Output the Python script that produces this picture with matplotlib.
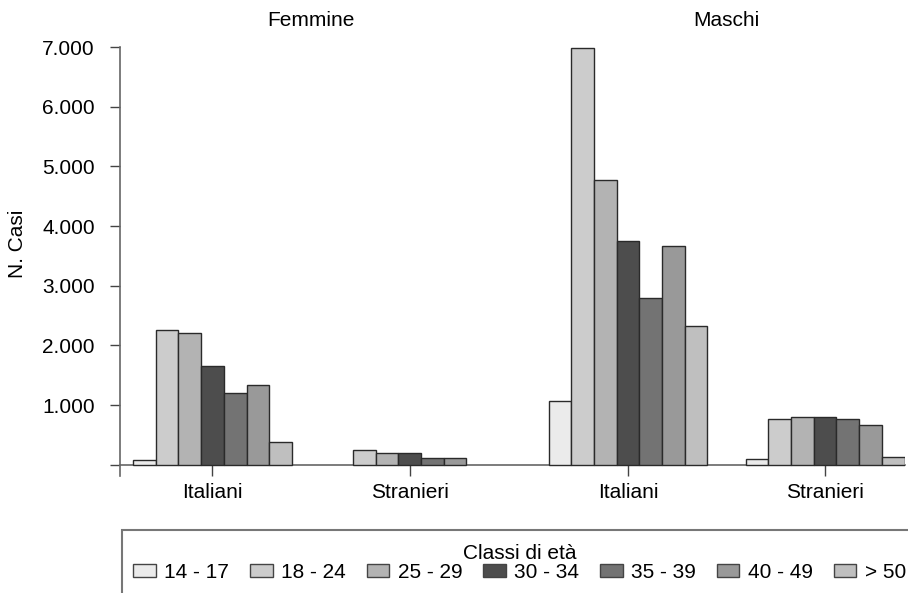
import matplotlib
matplotlib.use('Agg')
import matplotlib.pyplot as plt
from matplotlib.patches import Rectangle, Patch
import matplotlib.transforms as mtransforms

plt.rcParams['font.family'] = ['Liberation Sans', 'DejaVu Sans']

# ---- data ----
age_classes = ['14 - 17', '18 - 24', '25 - 29', '30 - 34', '35 - 39', '40 - 49', '> 50']
sexes = ['Femmine', 'Maschi']
origins = ['Italiani', 'Stranieri']
femmine_italiani = [80, 2250, 2210, 1650, 1205, 1330, 380]
femmine_stranieri = [0, 240, 200, 200, 120, 120, 0]
maschi_italiani = [1060, 6990, 4765, 3745, 2800, 3665, 2330]
maschi_stranieri = [90, 770, 805, 795, 760, 660, 125]
yticks = [0, 1000, 2000, 3000, 4000, 5000, 6000, 7000]
ytick_labels = ['', '1.000', '2.000', '3.000', '4.000', '5.000', '6.000', '7.000']

colors = ['#ebebeb', '#cccccc', '#b3b3b3', '#4d4d4d', '#737373', '#999999', '#bfbfbf']

values = {('Femmine', 'Italiani'): femmine_italiani,
          ('Femmine', 'Stranieri'): femmine_stranieri,
          ('Maschi', 'Italiani'): maschi_italiani,
          ('Maschi', 'Stranieri'): maschi_stranieri}

# ---- layout ----
W, H = 908, 593
fig = plt.figure(figsize=(W / 100, H / 100), dpi=100)
ax = fig.add_axes([120 / W, 1 - 476 / H, 785 / W, (476 - 47) / H])

sex_offsets = [0.0, 18.3]
origin_offsets = [0.0, 8.68]
n = len(age_classes)

tick_pos, tick_lab = [], []
for si, sex in enumerate(sexes):
    for oi, org in enumerate(origins):
        center = sex_offsets[si] + origin_offsets[oi]
        xs = [center + (i - (n - 1) / 2) for i in range(n)]
        vals = values[(sex, org)]
        ax.bar(xs, vals, width=1.0, color=colors,
               edgecolor='#2a2a2a',
               linewidth=[1.0 if v > 0 else 0.0 for v in vals], zorder=3)
        tick_pos.append(center)
        tick_lab.append(org)

ax.set_xlim(-4.073, 30.5)
px_per_1000 = (464.7 - 47) / 7
ax.set_ylim(-(476 - 464.7) / px_per_1000 * 1000, 7000)

for s in ['top', 'right']:
    ax.spines[s].set_visible(False)
ax.spines['bottom'].set_position(('data', 0))
for s in ['left', 'bottom']:
    ax.spines[s].set_color('#666666')
    ax.spines[s].set_linewidth(1.2)

ax.set_yticks(yticks)
ax.set_yticklabels(ytick_labels)
ax.set_xticks(tick_pos)
ax.set_xticklabels(tick_lab)
ax.tick_params(axis='y', length=7.2, width=1.0, color='#444444', pad=11, labelsize=15)
ax.tick_params(axis='x', length=8, width=1.0, color='#444444', pad=5, labelsize=15)

# panel titles
trans = mtransforms.blended_transform_factory(ax.transData, fig.transFigure)
for si, sex in enumerate(sexes):
    cx = sex_offsets[si] + sum(origin_offsets) / 2
    ax.text(cx, 1 - 20 / H, sex, transform=trans, ha='center', va='center',
            fontsize=15, clip_on=False)

fig.text(17.5 / W, 1 - 244 / H, 'N. Casi', rotation=90, ha='center', va='center',
         fontsize=15)

# legend
handles = [Patch(facecolor=c, edgecolor='#444444', linewidth=1.0) for c in colors]
fig.legend(handles, age_classes, ncol=n, title='Classi di età', loc='center',
           bbox_to_anchor=(519.5 / W, 1 - 563 / H), frameon=False, fontsize=15,
           title_fontsize=15, handlelength=1.09, handleheight=0.62,
           handletextpad=0.4, columnspacing=1.0, borderpad=0, labelspacing=0)

fig.patches.append(Rectangle((121.7 / W, -0.2), 1.0, 0.2 + (1 - 529.5 / H),
                             transform=fig.transFigure, facecolor='none',
                             edgecolor='#777777', linewidth=1.5))

fig.savefig('out.png', dpi=100)
